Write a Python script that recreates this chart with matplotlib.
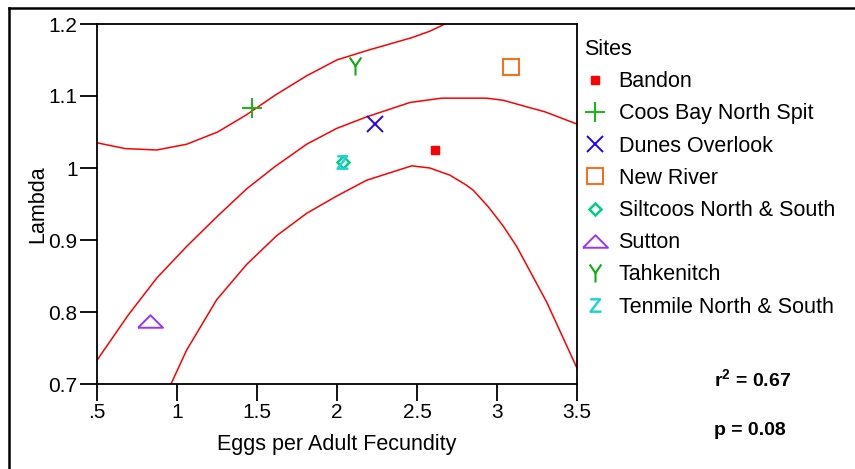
import matplotlib
matplotlib.use("Agg")
import matplotlib.pyplot as plt
from matplotlib.lines import Line2D
from matplotlib.path import Path

plt.rcParams['font.family'] = ['Liberation Sans', 'DejaVu Sans']
plt.rcParams['mathtext.fontset'] = 'custom'
plt.rcParams['mathtext.sf'] = 'Liberation Sans'
plt.rcParams['mathtext.bf'] = 'Liberation Sans:bold'

# ---- data ----
sites = ["Bandon", "Coos Bay North Spit", "Dunes Overlook", "New River",
         "Siltcoos North & South", "Sutton", "Tahkenitch", "Tenmile North & South"]
eggs = [2.61, 1.47, 2.24, 3.09, 2.04, 0.83, 2.11, 2.03]
lam = [1.025, 1.083, 1.061, 1.140, 1.008, 0.787, 1.141, 1.008]

fit_x = [0.5, 0.696, 0.873, 1.06, 1.248, 1.435, 1.6125, 1.81, 1.998, 2.185,
         2.456, 2.654, 2.935, 3.04, 3.185, 3.3, 3.5]
fit_y = [0.733, 0.796, 0.847, 0.891, 0.932, 0.971, 1.002, 1.033, 1.055, 1.071,
         1.091, 1.097, 1.097, 1.094, 1.085, 1.078, 1.061]

upper_x = [0.5, 0.675, 0.873, 1.06, 1.254, 1.435, 1.6125, 1.81, 1.998, 2.185,
           2.467, 2.58, 2.675]
upper_y = [1.035, 1.027, 1.025, 1.033, 1.050, 1.074, 1.101, 1.128, 1.150, 1.163,
           1.181, 1.190, 1.200]

lower_x = [0.9625, 1.06, 1.248, 1.435, 1.623, 1.81, 1.998, 2.185, 2.467, 2.58,
           2.706, 2.81, 2.852, 2.946, 3.04, 3.123, 3.31, 3.5]
lower_y = [0.700, 0.747, 0.817, 0.866, 0.906, 0.937, 0.961, 0.983, 1.003, 1.000,
           0.990, 0.976, 0.969, 0.946, 0.919, 0.891, 0.814, 0.722]

xticks = [0.5, 1, 1.5, 2, 2.5, 3, 3.5]
xticklabels = [".5", "1", "1.5", "2", "2.5", "3", "3.5"]
yticks = [0.7, 0.8, 0.9, 1.0, 1.1, 1.2]
yticklabels = ["0.7", "0.8", "0.9", "1", "1.1", "1.2"]

# ---- styles ----
flat_tri = [(-1, -0.5), (1, -0.5), (0, 0.5), (-1, -0.5)]
y_path = Path([(0, 0.05), (-0.55, 0.85), (0, 0.05), (0.55, 0.85), (0, 0.05), (0, -0.85)],
              [Path.MOVETO, Path.LINETO, Path.MOVETO, Path.LINETO, Path.MOVETO, Path.LINETO])
styles = [
    dict(marker='s', color='#ff0000', mfc='#ff0000', ms=6),
    dict(marker='+', color='#11bb11', mfc='none', ms=14, mew=1.4),
    dict(marker='x', color='#2200ff', mfc='none', ms=11, mew=1.4),
    dict(marker='s', color='#ff6a10', mfc='none', ms=11, mew=1.4),
    dict(marker='D', color='#00cc88', mfc='none', ms=6, mew=1.8),
    dict(marker=flat_tri, color='#9933ff', mfc='none', ms=18, mew=1.4),
    dict(marker=y_path, color='#11aa11', mfc='none', ms=13, mew=1.5),
    dict(marker=r'$\mathsf{Z}$', color='#1cd4d4', mfc='#1cd4d4', ms=10, mew=0.6),
]

fig = plt.figure(figsize=(8.55, 4.69), dpi=100)
ax = fig.add_axes([97/855, 1-384/469, 480/855, 360/469])

for xs, ys in [(fit_x, fit_y), (upper_x, upper_y), (lower_x, lower_y)]:
    ax.plot(xs, ys, color='#ff0000', lw=1.1)

handles = []
for i, name in enumerate(sites):
    st = styles[i]
    h, = ax.plot([eggs[i]], [lam[i]], linestyle='none', label=name,
                 marker=st['marker'], color=st['color'], mfc=st['mfc'],
                 ms=st['ms'], mew=st.get('mew', 1.0))
    handles.append(h)

ax.set_xlim(0.5, 3.5)
ax.set_ylim(0.7, 1.2)
ax.set_xticks(xticks)
ax.set_xticklabels(xticklabels)
ax.set_yticks(yticks)
ax.set_yticklabels(yticklabels)
ax.tick_params(direction='out', length=12, width=1.3, labelsize=15, pad=2)
for sp in ax.spines.values():
    sp.set_linewidth(1.3)
ax.set_xlabel("Eggs per Adult Fecundity", fontsize=15.5, labelpad=8)
ax.set_ylabel("Lambda", fontsize=15.5, labelpad=0)

leg = fig.legend(handles=handles, title="Sites", loc='upper left',
                 bbox_to_anchor=(569/855, 1-24/469), frameon=False,
                 fontsize=15.5, title_fontsize=15.5, labelspacing=0.52,
                 handlelength=1.0, handletextpad=0.6, alignment='left',
                 borderpad=0.2)

fig.text(714/855, 1-380/469, r"r$^{\mathbf{2}}$ = 0.67", fontsize=14,
         fontweight='bold', va='center', ha='left')
fig.text(714/855, 1-430/469, "p = 0.08", fontsize=14,
         fontweight='bold', va='center', ha='left')

# figure border (top and left visible)
fig.add_artist(Line2D([9/855, 9/855], [0, 1-8/469], transform=fig.transFigure,
                      color='black', lw=1.8))
fig.add_artist(Line2D([9/855, 1], [1-8/469, 1-8/469], transform=fig.transFigure,
                      color='black', lw=1.8))

fig.savefig("out.png", dpi=100)
